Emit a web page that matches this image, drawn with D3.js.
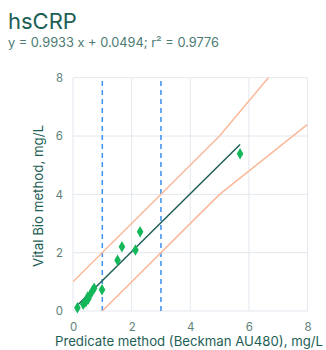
<!DOCTYPE html>
<html><head><meta charset="utf-8">
<script src="https://cdn.jsdelivr.net/npm/d3@7"></script>
<style>body{margin:0;background:#fff;font-family:Inter,"Open Sans",sans-serif;}</style>
</head><body>
<svg id="c" width="326" height="350"></svg>
<script>
const title = "hsCRP";
const subtitle = "y = 0.9933 x + 0.0494; r² = 0.9776";
const xLabel = "Predicate method (Beckman AU480), mg/L";
const yLabel = "Vital Bio method, mg/L";
const ticks = [0, 2, 4, 6, 8];
const predicate = [0.15, 0.35, 0.44, 0.52, 0.58, 0.5, 0.66, 0.72, 0.99, 1.52, 1.67, 2.13, 2.29, 5.70];
const vitalBio  = [0.11, 0.23, 0.32, 0.41, 0.55, 0.48, 0.69, 0.78, 0.73, 1.74, 2.20, 2.09, 2.72, 5.39];
const slope = 0.9933, intercept = 0.0494;
const fitRange = [0.125, 5.70];
const cutoffs = [1, 3];
const limitX = [0, 5, 8];
const upperY = [1, 6, 9.6];
const lowerY = [-1, 4, 6.4];

const svg = d3.select("#c");
const x = d3.scaleLinear().domain([0, 8]).range([73, 307.5]);
const y = d3.scaleLinear().domain([0, 8]).range([311, 77.7]);
const teal = "#1d5e55", tick = "#5f7f7b";

svg.append("text").attr("x", 8).attr("y", 29).attr("fill", teal)
  .style("font-size", "22px").text(title);
svg.append("text").attr("x", 8).attr("y", 46.5).attr("fill", "#4b7a73")
  .style("font-size", "12.8px").text(subtitle);

const defs = svg.append("defs");
defs.append("clipPath").attr("id", "clip").append("rect")
  .attr("x", 73).attr("y", 77.7).attr("width", 234.5).attr("height", 233.3);

// grid
const g = svg.append("g");
ticks.forEach(t => {
  g.append("line").attr("x1", x(t)).attr("x2", x(t)).attr("y1", y(0)).attr("y2", y(8))
    .attr("stroke", "#e3e8ee").attr("stroke-width", 1);
  g.append("line").attr("x1", x(0)).attr("x2", x(8)).attr("y1", y(t)).attr("y2", y(t))
    .attr("stroke", "#e3e8ee").attr("stroke-width", 1);
});

// axes labels
const xAxis = d3.axisBottom(x).tickValues(ticks).tickSize(0).tickPadding(0);
const xa = svg.append("g").attr("transform", `translate(0,${y(0)+12})`).call(xAxis);
xa.select(".domain").remove();
xa.selectAll("text").attr("fill", tick).style("font-size", "11.5px").style("font-family", "Inter,sans-serif");
const yAxis = d3.axisLeft(y).tickValues(ticks).tickSize(0).tickPadding(0);
const ya = svg.append("g").attr("transform", `translate(${x(0)-10},0)`).call(yAxis);
ya.select(".domain").remove();
ya.selectAll("text").attr("fill", tick).style("font-size", "11.5px").style("font-family", "Inter,sans-serif");

svg.append("text").attr("x", 189).attr("y", 346).attr("text-anchor", "middle")
  .attr("fill", teal).style("font-size", "13.4px")
  .attr("textLength", 268).attr("lengthAdjust", "spacingAndGlyphs").text(xLabel);
svg.append("text").attr("transform", `translate(43,196) rotate(-90)`).attr("text-anchor", "middle")
  .attr("fill", teal).style("font-size", "13.4px")
  .attr("textLength", 142).attr("lengthAdjust", "spacingAndGlyphs").text(yLabel);

const plot = svg.append("g").attr("clip-path", "url(#clip)");
// cutoffs
cutoffs.forEach(c => {
  plot.append("line").attr("x1", x(c)).attr("x2", x(c)).attr("y1", y(0)).attr("y2", y(8))
    .attr("stroke", "#3b8ff0").attr("stroke-width", 1.5).attr("stroke-dasharray", "5,4");
});
// limits
const lim = d3.line().x(d => x(d[0])).y(d => y(d[1]));
[upperY, lowerY].forEach(arr => {
  plot.append("path").attr("d", lim(limitX.map((v, i) => [v, arr[i]])))
    .attr("fill", "none").attr("stroke", "#fbb99a").attr("stroke-width", 1.5);
});
// fit
plot.append("path").attr("d", lim(fitRange.map(v => [v, slope * v + intercept])))
  .attr("fill", "none").attr("stroke", "#1f5f56").attr("stroke-width", 1.5);
// points
const sym = d3.symbol().type(d3.symbolDiamond).size(38);
svg.append("g").selectAll("path").data(predicate).join("path")
  .attr("d", sym).attr("transform", (d, i) => `translate(${x(d)},${y(vitalBio[i])})`)
  .attr("fill", "#14b85a");
</script>
</body></html>
